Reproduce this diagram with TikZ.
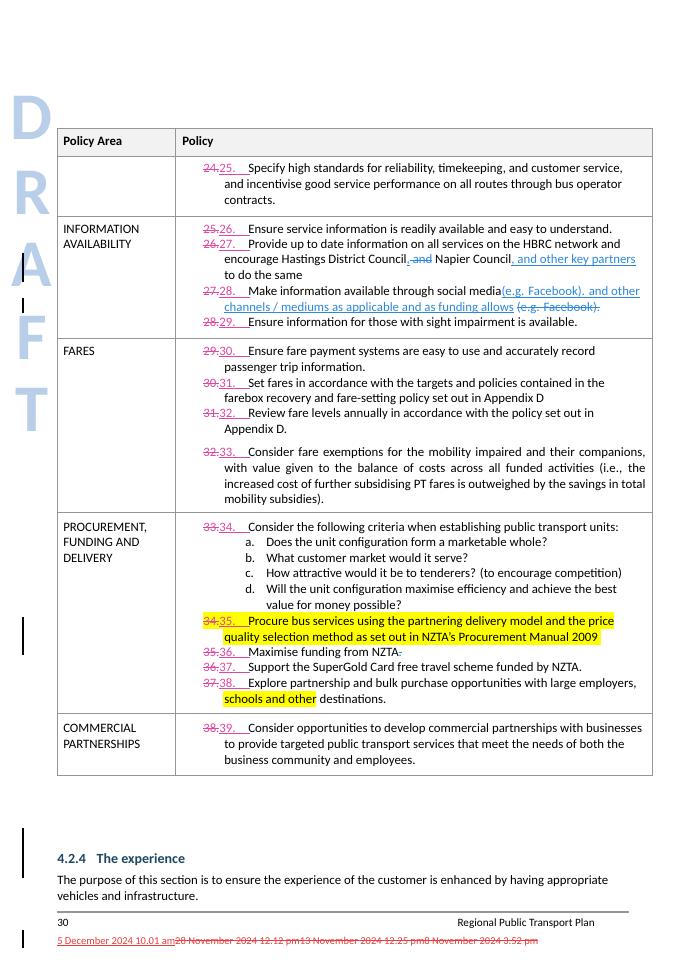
\documentclass[tikz,border=0pt]{standalone}
\usepackage{fontspec}
\setmainfont{Carlito}
\usetikzlibrary{positioning}
\definecolor{ins}{RGB}{225,70,160}
\definecolor{lnk}{RGB}{45,135,220}
\definecolor{rule}{RGB}{150,150,150}
\definecolor{head}{RGB}{242,242,242}
\definecolor{draftc}{RGB}{185,206,232}
\definecolor{teal}{RGB}{30,72,95}
\definecolor{hl}{RGB}{255,255,0}
\definecolor{redc}{RGB}{235,60,60}
\newcommand{\fs}{\fontsize{9.6}{11.7}\selectfont}
\newcommand{\strk}[1]{\setbox0\hbox{#1}\rlap{\rule[2.4pt]{\wd0}{0.4pt}}\box0}
\newcommand{\undl}[1]{\setbox0\hbox{#1}\rlap{\rule[-1.3pt]{\wd0}{0.4pt}}\box0}
\newcommand{\oldn}[1]{{\color{ins}\strk{#1}}}
\newcommand{\newn}[1]{{\color{ins}\undl{#1\hspace{11pt}}}}
\newcommand{\lnkins}[1]{{\color{lnk}\undl{#1}}}
\newcommand{\lnkdel}[1]{{\color{lnk}\strk{#1}}}
\tikzset{
  txt/.style={anchor=base west, inner sep=0pt, font=\fs},
  cell/.style={draw=rule, line width=0.6pt},
  letter/.style={anchor=center, inner sep=0pt, text=draftc, font=\fontsize{50}{50}\selectfont\bfseries},
}
% one numbered policy line: name, y, old number, new number, text
\newcommand{\pol}[5]{\node[txt] (#1) at (203,#2) {\oldn{#3}\newn{#4}}; \node[txt] at (248,#2) {#5};}
\newcommand{\cont}[3]{\node[txt] (#1) at (224,#2) {#3};}
\begin{document}
\begin{tikzpicture}[x=0.75pt,y=-0.75pt]
    \useasboundingbox (0,0) rectangle (675,962);
    \fill[white] (0,0) rectangle (675,962);

    % Draft watermark
    \node[letter] (dD) at (32,118) {D};
    \node[letter] (dR) at (32,193) {R};
    \node[letter] (dA) at (32,265) {A};
    \node[letter] (dF) at (32,338) {F};
    \node[letter] (dT) at (32,410) {T};

    % change bars
    \draw[line width=0.8pt] (23,253) -- (23,282);
    \draw[line width=0.8pt] (23,298) -- (23,313);
    \draw[line width=0.8pt] (23,617) -- (23,655);
    \draw[line width=0.8pt] (23,828) -- (23,878);
    \draw[line width=0.8pt] (23,930) -- (23,948);

    % Highlights
    \fill[hl] (203,612) rectangle (614,629);
    \fill[hl] (223,629) rectangle (601,645);
    \fill[hl] (223,691) rectangle (316,707);

    % Table
    \fill[head] (57,128) rectangle (652,156);
    \draw[cell] (57,128) rectangle (652,775);
    \draw[cell] (175,128) -- (175,775);
    \foreach \yy in {156,216,338,512,713}
        \draw[cell] (57,\yy) -- (652,\yy);

    % Header
    \node[txt] (hArea) at (63,146) {\bfseries Policy Area};
    \node[txt] (hPol) at (182,146) {\bfseries Policy};

    % Row 1
    \pol{p25}{173}{24.}{25.}{Specify high standards for reliability, timekeeping, and customer service,}
    \cont{c25a}{189}{and incentivise good service performance on all routes through bus operator}
    \cont{c25b}{205}{contracts.}

    % Row 2
    \node[txt] (aInfo) at (63,234) {INFORMATION};
    \node[txt] (aInfo2) at (63,249) {AVAILABILITY};
    \pol{p26}{234}{25.}{26.}{Ensure service information is readily available and easy to understand.}
    \pol{p27}{249}{26.}{27.}{Provide up to date information on all services on the HBRC network and}
    \cont{c27a}{264}{encourage Hastings District Council\lnkins{,}\lnkdel{ and} Napier Council\lnkins{, and other key partners}}
    \cont{c27b}{279}{to do the same}
    \pol{p28}{296}{27.}{28.}{Make information available through social media\lnkins{(e.g. Facebook). and other}}
    \cont{c28a}{311}{\lnkins{channels / mediums as applicable and as funding allows} \lnkdel{(e.g. Facebook).}}
    \pol{p29}{326}{28.}{29.}{Ensure information for those with sight impairment is available.}

    % Row 3
    \node[txt] (aFares) at (63,355) {FARES};
    \pol{p30}{355}{29.}{30.}{Ensure fare payment systems are easy to use and accurately record}
    \cont{c30a}{371}{passenger trip information.}
    \pol{p31}{387}{30.}{31.}{Set fares in accordance with the targets and policies contained in the}
    \cont{c31a}{402}{farebox recovery and fare-setting policy set out in Appendix D}
    \pol{p32}{417}{31.}{32.}{Review fare levels annually in accordance with the policy set out in}
    \cont{c32a}{433}{Appendix D.}
    \pol{p33}{456}{32.}{33.}{\hbox to 298pt{Consider fare exemptions for the mobility impaired and their companions,}}
    \cont{c33a}{472}{\hbox to 316pt{with value given to the balance of costs across all funded activities (i.e., the}}
    \cont{c33b}{488}{\hbox to 316pt{increased cost of further subsidising PT fares is outweighed by the savings in total}}
    \cont{c33c}{503}{mobility subsidies).}

    % Row 4
    \node[txt] (aProc) at (63,531) {PROCUREMENT,};
    \node[txt] (aProc2) at (63,546) {FUNDING AND};
    \node[txt] (aProc3) at (63,562) {DELIVERY};
    \pol{p34}{531}{33.}{34.}{Consider the following criteria when establishing public transport units:}
    \foreach \ltr/\yy/\txt in {a./546/Does the unit configuration form a marketable whole?,
                               b./562/What customer market would it serve?,
                               c./577/How attractive would it be to tenderers? (to encourage competition),
                               d./593/Will the unit configuration maximise efficiency and achieve the best}
        {\node[txt] at (245,\yy) {\ltr}; \node[txt] at (266,\yy) {\txt};}
    \node[txt] (c34d) at (266,609) {value for money possible?};
    \pol{p35}{625}{34.}{35.}{Procure bus services using the partnering delivery model and the price}
    \cont{c35a}{641}{quality selection method as set out in NZTA’s Procurement Manual 2009}
    \pol{p36}{656}{35.}{36.}{Maximise funding from NZTA\lnkdel{.}}
    \pol{p37}{671}{36.}{37.}{Support the SuperGold Card free travel scheme funded by NZTA.}
    \pol{p38}{687}{37.}{38.}{Explore partnership and bulk purchase opportunities with large employers,}
    \cont{c38a}{703}{schools and other destinations.}

    % Row 5
    \node[txt] (aComm) at (63,732) {COMMERCIAL};
    \node[txt] (aComm2) at (63,748) {PARTNERSHIPS};
    \pol{p39}{732}{38.}{39.}{Consider opportunities to develop commercial partnerships with businesses}
    \cont{c39a}{748}{to provide targeted public transport services that meet the needs of both the}
    \cont{c39b}{764}{business community and employees.}

    % Section
    \node[txt, text=teal, font=\fontsize{10.5}{12}\selectfont\bfseries] (sec) at (57,863) {4.2.4\hspace{8pt}The experience};
    \node[txt] (par1) at (57,884) {The purpose of this section is to ensure the experience of the customer is enhanced by having appropriate};
    \node[txt] (par2) at (57,900) {vehicles and infrastructure.};

    % Footer
    \draw[rule, line width=0.8pt] (57,912) -- (629,912);
    \node[txt, font=\fontsize{8.4}{10}\selectfont] (pg) at (57,926) {30};
    \node[txt, anchor=base east, font=\fontsize{8.4}{10}\selectfont] (ftitle) at (595,926) {Regional Public Transport Plan};
    \node[txt, text=redc, font=\fontsize{7.9}{9}\selectfont] (fdate) at (57,944)
        {\undl{5 December 2024 10.01 am}\strk{28 November 2024 12.12 pm}\strk{13 November 2024 12.25 pm}\strk{8 November 2024 3.52 pm}};
\end{tikzpicture}
\end{document}
